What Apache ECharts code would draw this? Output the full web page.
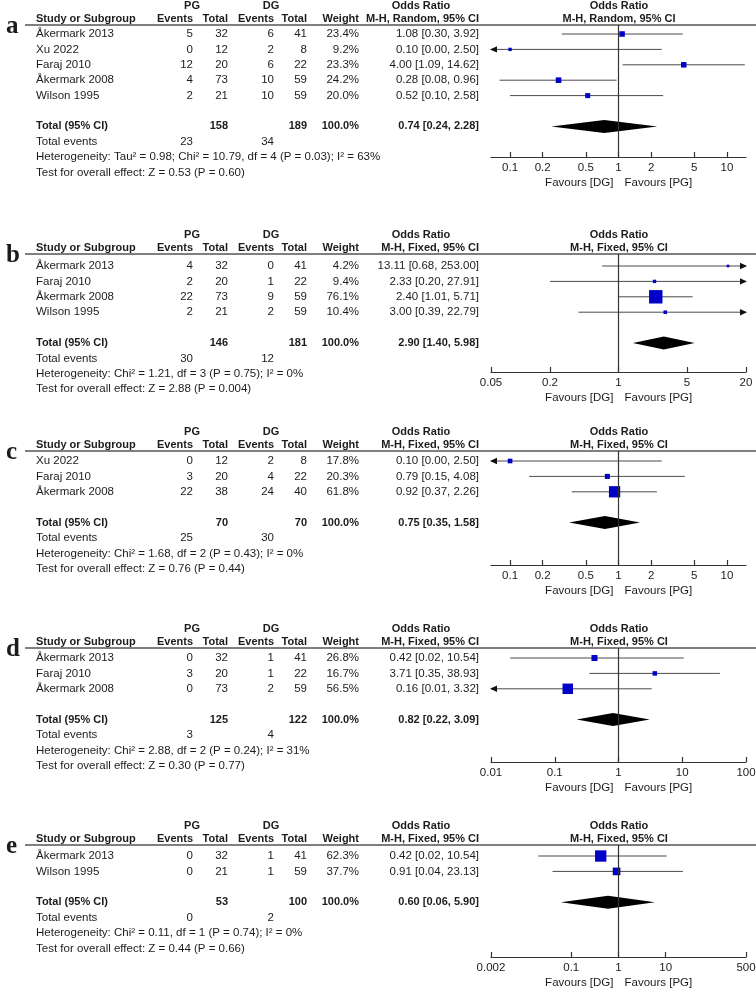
<!DOCTYPE html>
<html><head><meta charset="utf-8">
<script src="https://cdn.jsdelivr.net/npm/echarts@6/dist/echarts.min.js"></script>
<style>html,body{margin:0;padding:0;background:#fff}#c{width:756px;height:991px}</style>
</head><body><div id="c"></div>
<script>
// ---------- DATA ----------
// Panel a
const aStudies = ['Åkermark 2013','Xu 2022','Faraj 2010','Åkermark 2008','Wilson 1995'];
const aPgEvents = [5,0,12,4,2];
const aPgTotal = [32,12,20,73,21];
const aDgEvents = [6,2,6,10,10];
const aDgTotal = [41,8,22,59,59];
const aWeight = [23.4,9.2,23.3,24.2,20.0];
const aOR = [1.08,0.10,4.00,0.28,0.52];
const aLo = [0.30,0.00,1.09,0.08,0.10];
const aHi = [3.92,2.50,14.62,0.96,2.58];
const aTotals = [158,189];
const aEvents = [23,34];
const aPooled = [0.74,0.24,2.28];
const aMethod = 'M-H, Random, 95% CI';
const aHet = 'Heterogeneity: Tau² = 0.98; Chi² = 10.79, df = 4 (P = 0.03); I² = 63%';
const aTest = 'Test for overall effect: Z = 0.53 (P = 0.60)';
const aTicks = [0.1,0.2,0.5,1,2,5,10];
const aRange = [0.0667,15];
// Panel b
const bStudies = ['Åkermark 2013','Faraj 2010','Åkermark 2008','Wilson 1995'];
const bPgEvents = [4,2,22,2];
const bPgTotal = [32,20,73,21];
const bDgEvents = [0,1,9,2];
const bDgTotal = [41,22,59,59];
const bWeight = [4.2,9.4,76.1,10.4];
const bOR = [13.11,2.33,2.40,3.00];
const bLo = [0.68,0.20,1.01,0.39];
const bHi = [253.00,27.91,5.71,22.79];
const bTotals = [146,181];
const bEvents = [30,12];
const bPooled = [2.90,1.40,5.98];
const bMethod = 'M-H, Fixed, 95% CI';
const bHet = 'Heterogeneity: Chi² = 1.21, df = 3 (P = 0.75); I² = 0%';
const bTest = 'Test for overall effect: Z = 2.88 (P = 0.004)';
const bTicks = [0.05,0.2,1,5,20];
const bRange = [0.05,20];
// Panel c
const cStudies = ['Xu 2022','Faraj 2010','Åkermark 2008'];
const cPgEvents = [0,3,22];
const cPgTotal = [12,20,38];
const cDgEvents = [2,4,24];
const cDgTotal = [8,22,40];
const cWeight = [17.8,20.3,61.8];
const cOR = [0.10,0.79,0.92];
const cLo = [0.00,0.15,0.37];
const cHi = [2.50,4.08,2.26];
const cTotals = [70,70];
const cEvents = [25,30];
const cPooled = [0.75,0.35,1.58];
const cMethod = 'M-H, Fixed, 95% CI';
const cHet = 'Heterogeneity: Chi² = 1.68, df = 2 (P = 0.43); I² = 0%';
const cTest = 'Test for overall effect: Z = 0.76 (P = 0.44)';
const cTicks = [0.1,0.2,0.5,1,2,5,10];
const cRange = [0.0667,15];
// Panel d
const dStudies = ['Åkermark 2013','Faraj 2010','Åkermark 2008'];
const dPgEvents = [0,3,0];
const dPgTotal = [32,20,73];
const dDgEvents = [1,1,2];
const dDgTotal = [41,22,59];
const dWeight = [26.8,16.7,56.5];
const dOR = [0.42,3.71,0.16];
const dLo = [0.02,0.35,0.01];
const dHi = [10.54,38.93,3.32];
const dTotals = [125,122];
const dEvents = [3,4];
const dPooled = [0.82,0.22,3.09];
const dMethod = 'M-H, Fixed, 95% CI';
const dHet = 'Heterogeneity: Chi² = 2.88, df = 2 (P = 0.24); I² = 31%';
const dTest = 'Test for overall effect: Z = 0.30 (P = 0.77)';
const dTicks = [0.01,0.1,1,10,100];
const dRange = [0.01,100];
// Panel e
const eStudies = ['Åkermark 2013','Wilson 1995'];
const ePgEvents = [0,0];
const ePgTotal = [32,21];
const eDgEvents = [1,1];
const eDgTotal = [41,59];
const eWeight = [62.3,37.7];
const eOR = [0.42,0.91];
const eLo = [0.02,0.04];
const eHi = [10.54,23.13];
const eTotals = [53,100];
const eEvents = [0,2];
const ePooled = [0.60,0.06,5.90];
const eMethod = 'M-H, Fixed, 95% CI';
const eHet = 'Heterogeneity: Chi² = 0.11, df = 1 (P = 0.74); I² = 0%';
const eTest = 'Test for overall effect: Z = 0.44 (P = 0.66)';
const eTicks = [0.002,0.1,1,10,500];
const eRange = [0.002,500];

// ---------- LAYOUT ----------
const LAYOUT = [
  {ul:25, row0:34, axis:157},
  {ul:254, row0:266, axis:372},
  {ul:451, row0:461, axis:565},
  {ul:648, row0:658, axis:762},
  {ul:845, row0:856, axis:957}
];
const ROWH = 15.4;
const COL = {name:36, pgEv:193, pgTot:228, dgEv:274, dgTot:307, w:359, ci:479, orHdr:421, pgHdr:192, dgHdr:271, plotL:491, plotW:255};
const FONT = '"Liberation Sans", Arial, Helvetica, sans-serif';
const SERIF = '"Liberation Serif", "Times New Roman", serif';
const FS = 11.5;
const FSB = 11;
const TXT = '#1c1c1c';

const panels = [
  {id:'a', studies:aStudies, pgEv:aPgEvents, pgTot:aPgTotal, dgEv:aDgEvents, dgTot:aDgTotal, w:aWeight, or:aOR, lo:aLo, hi:aHi, totals:aTotals, events:aEvents, pooled:aPooled, method:aMethod, het:aHet, test:aTest, ticks:aTicks, range:aRange},
  {id:'b', studies:bStudies, pgEv:bPgEvents, pgTot:bPgTotal, dgEv:bDgEvents, dgTot:bDgTotal, w:bWeight, or:bOR, lo:bLo, hi:bHi, totals:bTotals, events:bEvents, pooled:bPooled, method:bMethod, het:bHet, test:bTest, ticks:bTicks, range:bRange},
  {id:'c', studies:cStudies, pgEv:cPgEvents, pgTot:cPgTotal, dgEv:cDgEvents, dgTot:cDgTotal, w:cWeight, or:cOR, lo:cLo, hi:cHi, totals:cTotals, events:cEvents, pooled:cPooled, method:cMethod, het:cHet, test:cTest, ticks:cTicks, range:cRange},
  {id:'d', studies:dStudies, pgEv:dPgEvents, pgTot:dPgTotal, dgEv:dDgEvents, dgTot:dDgTotal, w:dWeight, or:dOR, lo:dLo, hi:dHi, totals:dTotals, events:dEvents, pooled:dPooled, method:dMethod, het:dHet, test:dTest, ticks:dTicks, range:dRange},
  {id:'e', studies:eStudies, pgEv:ePgEvents, pgTot:ePgTotal, dgEv:eDgEvents, dgTot:eDgTotal, w:eWeight, or:eOR, lo:eLo, hi:eHi, totals:eTotals, events:eEvents, pooled:ePooled, method:eMethod, het:eHet, test:eTest, ticks:eTicks, range:eRange}
];

const lg = v => Math.log10(Math.max(v, 1e-6));
const f2 = v => v.toFixed(2);
const ciStr = (o,l,h) => f2(o)+' ['+f2(l)+', '+f2(h)+']';

function T(x,y,str,align,bold,size,family){
  const fs = size || (bold ? FSB : FS);
  return {type:'text', x:x, y:y, silent:true, z:10,
    style:{text:String(str), fill:TXT, font:(bold?'bold ':'')+fs+'px '+(family||FONT),
      textAlign:align||'left', textVerticalAlign:'middle', align:align||'left', verticalAlign:'middle'}};
}

const graphics = [];
const grids = [], xAxes = [], yAxes = [], series = [];

function ciRender(params, api){
  const cs = params.coordSys;
  const y = api.value(1);
  const p0 = api.coord([api.value(2), y]);
  const p1 = api.coord([api.value(3), y]);
  const left = cs.x, right = cs.x + cs.width;
  let l = p0[0], r = p1[0]; const py = p0[1];
  let aL = false, aR = false;
  if (l <= left + 0.5) { l = left; aL = true; }
  if (r >= right - 0.5) { r = right; aR = true; }
  const ch = [{type:'line', shape:{x1:l, y1:py, x2:r, y2:py}, style:{stroke:'#4a4a4a', lineWidth:1}}];
  if (aL) ch.push({type:'polygon', shape:{points:[[l-1,py],[l+6,py-3.2],[l+6,py+3.2]]}, style:{fill:'#111'}});
  if (aR) ch.push({type:'polygon', shape:{points:[[r+1,py],[r-6,py-3.2],[r-6,py+3.2]]}, style:{fill:'#111'}});
  return {type:'group', children:ch};
}
function diamondRender(params, api){
  const y = api.value(1);
  const c = api.coord([api.value(0), y]);
  const l = api.coord([api.value(2), y]);
  const r = api.coord([api.value(3), y]);
  const h = 6.5;
  return {type:'polygon', shape:{points:[[l[0],c[1]],[c[0],c[1]-h],[r[0],c[1]],[c[0],c[1]+h]]}, style:{fill:'#000'}};
}

panels.forEach((p, k) => {
  const L = LAYOUT[k];
  const n = p.studies.length;
  const rowY = i => L.row0 + i*ROWH;
  graphics.push(T(6, L.ul+2, p.id, 'left', true, 25, SERIF));
  const h1 = L.ul - 19, h2 = L.ul - 6;
  graphics.push(T(COL.pgHdr, h1, 'PG', 'center', true));
  graphics.push(T(COL.dgHdr, h1, 'DG', 'center', true));
  graphics.push(T(COL.orHdr, h1, 'Odds Ratio', 'center', true));
  graphics.push(T(COL.plotL + COL.plotW/2 + 0.5, h1, 'Odds Ratio', 'center', true));
  graphics.push(T(COL.name, h2, 'Study or Subgroup', 'left', true));
  graphics.push(T(COL.pgEv, h2, 'Events', 'right', true));
  graphics.push(T(COL.pgTot, h2, 'Total', 'right', true));
  graphics.push(T(COL.dgEv, h2, 'Events', 'right', true));
  graphics.push(T(COL.dgTot, h2, 'Total', 'right', true));
  graphics.push(T(COL.w, h2, 'Weight', 'right', true));
  graphics.push(T(COL.ci, h2, p.method, 'right', true));
  graphics.push(T(COL.plotL + COL.plotW/2 + 0.5, h2, p.method, 'center', true));
  graphics.push({type:'line', silent:true, z:5, shape:{x1:25, y1:L.ul, x2:756, y2:L.ul}, style:{stroke:'#555', lineWidth:1.5}});
  p.studies.forEach((s, i) => {
    const y = rowY(i);
    graphics.push(T(COL.name, y, s, 'left'));
    graphics.push(T(COL.pgEv, y, p.pgEv[i], 'right'));
    graphics.push(T(COL.pgTot, y, p.pgTot[i], 'right'));
    graphics.push(T(COL.dgEv, y, p.dgEv[i], 'right'));
    graphics.push(T(COL.dgTot, y, p.dgTot[i], 'right'));
    graphics.push(T(COL.w, y, p.w[i].toFixed(1)+'%', 'right'));
    graphics.push(T(COL.ci, y, ciStr(p.or[i], p.lo[i], p.hi[i]), 'right'));
  });
  const yt = rowY(n+1);
  graphics.push(T(COL.name, yt, 'Total (95% CI)', 'left', true));
  graphics.push(T(COL.pgTot, yt, p.totals[0], 'right', true));
  graphics.push(T(COL.dgTot, yt, p.totals[1], 'right', true));
  graphics.push(T(COL.w, yt, '100.0%', 'right', true));
  graphics.push(T(COL.ci, yt, ciStr(p.pooled[0], p.pooled[1], p.pooled[2]), 'right', true));
  const ye = rowY(n+2);
  graphics.push(T(COL.name, ye, 'Total events', 'left'));
  graphics.push(T(COL.pgEv, ye, p.events[0], 'right'));
  graphics.push(T(COL.dgEv, ye, p.events[1], 'right'));
  graphics.push(T(COL.name, rowY(n+3), p.het, 'left'));
  graphics.push(T(COL.name, rowY(n+4), p.test, 'left'));
  const cx = COL.plotL + COL.plotW/2;
  graphics.push(T(cx - 5, L.axis + 26, 'Favours [DG]', 'right'));
  graphics.push(T(cx + 6, L.axis + 26, 'Favours [PG]', 'left'));

  grids.push({left:COL.plotL, width:COL.plotW, top:L.ul, height:L.axis - L.ul, containLabel:false, outerBoundsMode:'none'});
  const tickVals = p.ticks.map(v => Math.log10(v));
  const ticks = p.ticks;
  xAxes.push({type:'value', gridIndex:k, min:Math.log10(p.range[0]), max:Math.log10(p.range[1]),
    axisLine:{show:true, onZero:false, lineStyle:{color:'#333', width:1.2}},
    axisTick:{show:true, inside:true, length:5, customValues:tickVals, lineStyle:{color:'#333', width:1.2}},
    axisLabel:{show:true, customValues:tickVals, margin:5, color:TXT, fontSize:FS, fontFamily:FONT,
      formatter: v => { const j = tickVals.findIndex(t => Math.abs(t - v) < 1e-6); return j >= 0 ? String(ticks[j]) : ''; }},
    splitLine:{show:false}});
  yAxes.push({type:'value', gridIndex:k, inverse:true, show:false,
    min:(L.ul - L.row0)/ROWH, max:(L.axis - L.row0)/ROWH, splitLine:{show:false}});

  series.push({type:'custom', xAxisIndex:k, yAxisIndex:k, clip:false, silent:true, z:2,
    renderItem:ciRender, encode:{x:0, y:1},
    data:p.studies.map((s,i) => [lg(p.or[i]), i, lg(p.lo[i]), lg(p.hi[i])])});
  series.push({type:'scatter', xAxisIndex:k, yAxisIndex:k, silent:true, z:3, symbol:'rect',
    itemStyle:{color:'#0000c8', opacity:1},
    data:p.studies.map((s,i) => ({value:[lg(p.or[i]), i], symbolSize: 2 + 0.15*p.w[i]})),
    markLine:{silent:true, symbol:'none', animation:false, label:{show:false},
      lineStyle:{color:'#333', width:1.2, type:'solid'}, data:[{xAxis:0}]}});
  series.push({type:'custom', xAxisIndex:k, yAxisIndex:k, clip:false, silent:true, z:3,
    renderItem:diamondRender, encode:{x:0, y:1},
    data:[[lg(p.pooled[0]), n+1, lg(p.pooled[1]), lg(p.pooled[2])]]});
});

const chart = echarts.init(document.getElementById('c'), null, {renderer:'canvas'});
chart.setOption({
  animation:false,
  backgroundColor:'#fff',
  grid:grids, xAxis:xAxes, yAxis:yAxes, series:series,
  graphic:{elements:graphics}
});
</script>
</body></html>
